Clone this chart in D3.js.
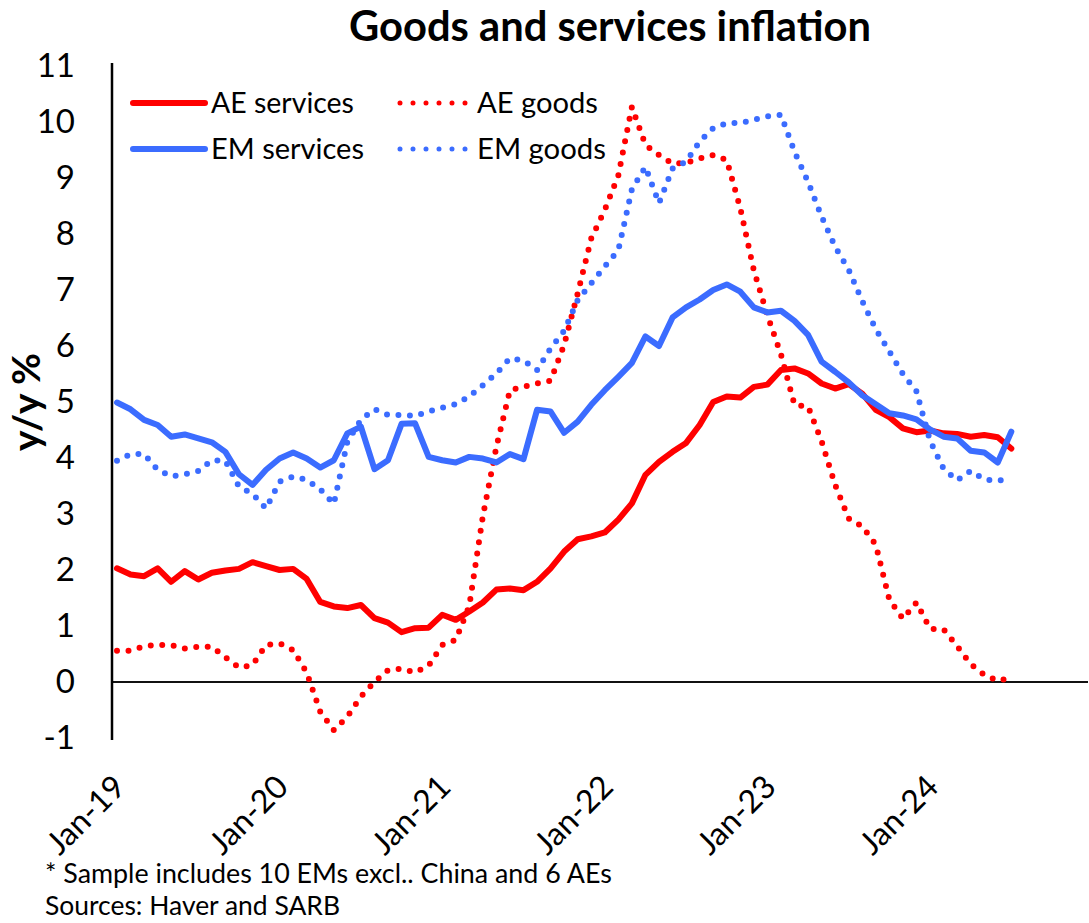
<!DOCTYPE html>
<html>
<head>
<meta charset="utf-8">
<script src="https://cdn.jsdelivr.net/npm/d3@7"></script>
<style>
  body { margin: 0; background: #fff; }
  svg { display: block; }
  text { font-family: Lato, "Open Sans", sans-serif; fill: #000; }
</style>
</head>
<body>
<svg id="chart" width="1089" height="923"></svg>
<script>
// Monthly categories on the x axis: Jan-19 .. Dec-24
const fmtMonth = d3.timeFormat("%b-%y");
const months = d3.timeMonth.range(new Date(2019, 0, 1), new Date(2025, 0, 1)).map(fmtMonth);
const tickMonths = ["Jan-19", "Jan-20", "Jan-21", "Jan-22", "Jan-23", "Jan-24"];
const yTicks = [-1, 0, 1, 2, 3, 4, 5, 6, 7, 8, 9, 10, 11];

// y/y % inflation, Jan-19 .. Jul-24
const aeServices = [2.03,1.92,1.89,2.03,1.79,1.98,1.83,1.95,1.99,2.02,
  2.14,2.07,2.0,2.02,1.84,1.43,1.35,1.32,1.375,1.14,
  1.06,0.89,0.96,0.97,1.2,1.11,1.26,1.42,1.65,1.67,
  1.64,1.79,2.03,2.33,2.55,2.6,2.67,2.9,3.19,3.7,
  3.93,4.11,4.27,4.59,5.0,5.1,5.08,5.27,5.31,5.57,
  5.6,5.51,5.33,5.24,5.32,5.15,4.86,4.73,4.53,4.46,
  4.49,4.44,4.43,4.38,4.41,4.37,4.17];
const aeGoods = [0.56,0.56,0.64,0.66,0.66,0.6,0.63,0.63,0.44,0.26,
  0.3,0.66,0.69,0.57,0.17,-0.53,-0.86,-0.62,-0.26,0.0,
  0.21,0.24,0.17,0.29,0.66,0.75,1.36,2.96,4.2,5.21,
  5.27,5.33,5.38,6.02,6.94,7.92,8.43,9.05,10.27,9.59,
  9.41,9.26,9.27,9.35,9.41,9.32,8.46,7.35,6.55,5.85,
  4.95,4.92,4.3,3.52,2.92,2.78,2.45,1.47,1.13,1.42,
  0.95,0.94,0.64,0.32,0.13,0.02,0.08];
const emServices = [4.99,4.87,4.68,4.59,4.38,4.42,4.35,4.28,4.11,3.71,
  3.52,3.79,3.99,4.1,3.99,3.83,3.96,4.44,4.56,3.8,
  3.96,4.61,4.62,4.02,3.96,3.92,4.02,3.99,3.92,4.07,
  3.98,4.86,4.83,4.45,4.65,4.95,5.21,5.45,5.7,6.17,
  6.0,6.51,6.69,6.83,7.0,7.1,6.97,6.69,6.6,6.63,
  6.45,6.2,5.72,5.54,5.35,5.12,4.96,4.8,4.76,4.69,
  4.51,4.38,4.35,4.13,4.1,3.92,4.47];
const emGoods = [3.95,4.07,4.07,3.79,3.67,3.71,3.77,3.96,3.95,3.49,
  3.36,3.1,3.58,3.67,3.61,3.44,3.18,4.29,4.68,4.87,
  4.77,4.77,4.75,4.83,4.9,4.96,5.1,5.3,5.51,5.78,
  5.74,5.57,5.96,6.27,6.82,7.12,7.42,7.71,8.8,9.2,
  8.55,9.17,9.29,9.65,9.89,9.98,9.98,10.04,10.1,10.13,
  9.47,8.93,8.31,7.77,7.36,6.8,6.3,5.9,5.5,5.19,
  4.31,3.81,3.6,3.77,3.62,3.59,3.65];

const seriesNames = ["AE services", "AE goods", "EM services", "EM goods"];
const RED = "#ff0000", BLUE = "#3b6cff";
const series = [
  { name: seriesNames[0], values: aeServices, color: RED,  dotted: false },
  { name: seriesNames[1], values: aeGoods,    color: RED,  dotted: true },
  { name: seriesNames[2], values: emServices, color: BLUE, dotted: false },
  { name: seriesNames[3], values: emGoods,    color: BLUE, dotted: true }
];

const svg = d3.select("#chart");
const plot = { left: 112, right: 1088, top: 66, bottom: 738 };

const x = d3.scalePoint().domain(months).range([117, 117 + 13.55 * (months.length - 1)]);
const y = d3.scaleLinear().domain([-1, 11]).range([plot.bottom, plot.top]);

// shrink/grow a text element's font so it spans the given width
function fitWidth(sel, target) {
  const node = sel.node();
  const fs = parseFloat(sel.attr("font-size"));
  const w = node.getComputedTextLength();
  sel.attr("font-size", (fs * target / w).toFixed(2));
  return sel;
}

// Title
fitWidth(svg.append("text")
  .attr("x", 610).attr("y", 41)
  .attr("text-anchor", "middle")
  .attr("font-weight", "bold")
  .attr("font-size", 36)
  .text("Goods and services inflation"), 522);

// Y axis labels
const yAxis = d3.axisLeft(y).tickValues(yTicks).tickSize(0).tickPadding(37).tickFormat(d => String(d));
const gy = svg.append("g").attr("transform", `translate(${plot.left},0)`).call(yAxis);
gy.select(".domain").remove();
gy.selectAll("text").attr("font-size", 33).attr("font-family", "Lato, sans-serif").attr("fill", "#000");

// X axis labels (rotated, shown at the bottom of the plot)
const xAxis = d3.axisBottom(x).tickValues(tickMonths).tickSize(0);
const gx = svg.append("g").attr("transform", `translate(0,${plot.bottom})`).call(xAxis);
gx.select(".domain").remove();
gx.selectAll("text")
  .attr("font-size", 32).attr("font-family", "Lato, sans-serif").attr("fill", "#000")
  .attr("x", 0).attr("y", 0).attr("dy", "0.35em")
  .attr("text-anchor", "end")
  .attr("transform", "translate(2,43) rotate(-45)");

// Y axis title
fitWidth(svg.append("text")
  .attr("transform", `translate(40,${(y(11) + y(-1)) / 2}) rotate(-90)`)
  .attr("text-anchor", "middle")
  .attr("font-weight", "bold")
  .attr("font-size", 30)
  .text("y/y %"), 98);

// Axis lines
svg.append("line")
  .attr("x1", plot.left).attr("x2", plot.right)
  .attr("y1", y(0)).attr("y2", y(0))
  .attr("stroke", "#111").attr("stroke-width", 2);
svg.append("line")
  .attr("x1", plot.left).attr("x2", plot.left)
  .attr("y1", plot.top - 3).attr("y2", plot.bottom + 2)
  .attr("stroke", "#000").attr("stroke-width", 2.5);

// Series lines
const line = d3.line().x((d, i) => x(months[i])).y(d => y(d));
series.forEach(s => {
  const p = svg.append("path")
    .datum(s.values)
    .attr("fill", "none")
    .attr("stroke", s.color)
    .attr("stroke-linejoin", "round")
    .attr("stroke-linecap", "round")
    .attr("d", line);
  if (s.dotted) {
    p.attr("stroke-width", 6).attr("stroke-dasharray", "0 11.5");
  } else {
    p.attr("stroke-width", 6);
  }
});

// Legend
const legendRows = [103, 149];
const legendCols = [{ x0: 133, x1: 205, tx: 211 }, { x0: 400, x1: 466, tx: 477 }];
const legendWidths = [143, 121, 153, 129];
series.forEach((s, i) => {
  const col = legendCols[i % 2];
  const ly = legendRows[Math.floor(i / 2)];
  const l = svg.append("line")
    .attr("x1", col.x0).attr("x2", col.x1)
    .attr("y1", ly).attr("y2", ly)
    .attr("stroke", s.color)
    .attr("stroke-linecap", "round");
  if (s.dotted) {
    l.attr("stroke-width", 5).attr("stroke-dasharray", "0 13");
  } else {
    l.attr("stroke-width", 6);
  }
  fitWidth(svg.append("text")
    .attr("x", col.tx).attr("y", ly + 9.5)
    .attr("font-size", 28)
    .text(s.name), legendWidths[i]);
});

// Footnotes
fitWidth(svg.append("text").attr("x", 45).attr("y", 883).attr("font-size", 25)
  .text("* Sample includes 10 EMs excl.. China and 6 AEs"), 567);
fitWidth(svg.append("text").attr("x", 45).attr("y", 915).attr("font-size", 25)
  .text("Sources: Haver and SARB"), 295);
</script>
</body>
</html>
